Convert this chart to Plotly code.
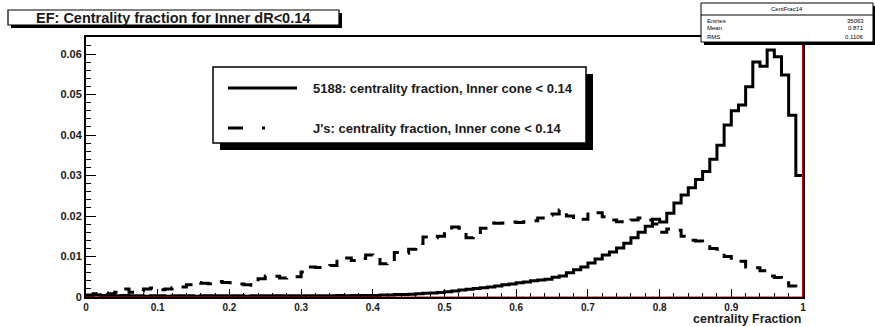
import plotly.graph_objects as go

# Histogram binning: 100 bins of width 0.01 on [0, 1]
bin_edges = [round(i * 0.01, 2) for i in range(101)]

# 5188 sample: centrality fraction, inner cone < 0.14 (normalised counts per bin)
solid_vals = [
    0.0004, 0.0005, 0.0004, 0.0003, 0.0003, 0.0004, 0.0003, 0.0003, 0.0002, 0.0003,
    0.0003, 0.0002, 0.0003, 0.0003, 0.0003, 0.0002, 0.0003, 0.0003, 0.0003, 0.0003,
    0.0003, 0.0003, 0.0002, 0.0003, 0.0003, 0.0003, 0.0003, 0.0003, 0.0003, 0.0003,
    0.0003, 0.0003, 0.0003, 0.0003, 0.0003, 0.0004, 0.0003, 0.0004, 0.0004, 0.0004,
    0.0004, 0.0005, 0.0005, 0.0006, 0.0006, 0.0007, 0.0008, 0.0009, 0.0010, 0.0011,
    0.0013, 0.0015, 0.0017, 0.0019, 0.0021, 0.0023, 0.0025, 0.0027, 0.0030, 0.0032,
    0.0035, 0.0037, 0.0040, 0.0042, 0.0044, 0.0049, 0.0052, 0.0060, 0.0067, 0.0074,
    0.0084, 0.0094, 0.0104, 0.0111, 0.0121, 0.0133, 0.0146, 0.0160, 0.0175, 0.0192,
    0.0185, 0.0207, 0.0232, 0.0252, 0.0270, 0.0290, 0.0310, 0.0340, 0.0375, 0.0425,
    0.0460, 0.0474, 0.0519, 0.0580, 0.0570, 0.0610, 0.0593, 0.0548, 0.0449, 0.0300,
]

# J sample: centrality fraction, inner cone < 0.14
dashed_vals = [
    0.0005, 0.0008, 0.0010, 0.0008, 0.0012, 0.0020, 0.0012, 0.0015, 0.0020, 0.0022,
    0.0018, 0.0020, 0.0023, 0.0025, 0.0030, 0.0036, 0.0034, 0.0033, 0.0038, 0.0036,
    0.0035, 0.0032, 0.0030, 0.0029, 0.0045, 0.0052, 0.0051, 0.0047, 0.0049, 0.0050,
    0.0062, 0.0074, 0.0073, 0.0075, 0.0078, 0.0088, 0.0096, 0.0090, 0.0095, 0.0104,
    0.0098, 0.0082, 0.0086, 0.0110, 0.0108, 0.0118, 0.0132, 0.0148, 0.0146, 0.0150,
    0.0160, 0.0173, 0.0170, 0.0146, 0.0150, 0.0170, 0.0183, 0.0182, 0.0183, 0.0185,
    0.0184, 0.0186, 0.0188, 0.0195, 0.0202, 0.0205, 0.0215, 0.0200, 0.0190, 0.0192,
    0.0210, 0.0208, 0.0198, 0.0190, 0.0186, 0.0184, 0.0190, 0.0195, 0.0190, 0.0180,
    0.0160, 0.0168, 0.0165, 0.0150, 0.0140, 0.0138, 0.0128, 0.0120, 0.0118, 0.0100,
    0.0090, 0.0088, 0.0074, 0.0072, 0.0065, 0.0052, 0.0048, 0.0035, 0.0027, 0.0022,
]

legend_labels = [
    "5188: centrality fraction, Inner cone < 0.14",
    "J's: centrality fraction, Inner cone < 0.14",
]
title_text = "EF: Centrality fraction for Inner dR<0.14"
x_title = "centrality Fraction"
stats_name = "CentFrac14"
stats_rows = [("Entries", "35063"), ("Mean", "0.871"), ("RMS", "0.1106")]

W, H = 875, 327
L, R, T, B = 86, 72, 37, 30
PW, PH = W - L - R, H - T - B
FONT = "Liberation Sans"
INK = "#1a1a1a"


def fx(p):
    """pixel column -> paper x"""
    return (p - L) / PW


def fy(p):
    """pixel row -> paper y"""
    return (H - B - p) / PH


def step_xy(vals):
    return bin_edges, list(vals) + [vals[-1]]


fig = go.Figure()

sx, sy = step_xy(dashed_vals)
fig.add_trace(go.Scatter(x=sx, y=sy, mode="lines", line_shape="hv",
                         line=dict(color="black", width=3, dash="13px,10px"),
                         showlegend=False, hoverinfo="skip"))
sx, sy = step_xy(solid_vals)
fig.add_trace(go.Scatter(x=sx, y=sy, mode="lines", line_shape="hv",
                         line=dict(color="black", width=3),
                         showlegend=False, hoverinfo="skip"))

shapes = []
annotations = []


def boxed(x0, y0, x1, y1, shadow=4, lw=1.2):
    shapes.append(dict(type="rect", xref="paper", yref="paper",
                       x0=fx(x0 + shadow), x1=fx(x1 + shadow),
                       y0=fy(y1 + shadow), y1=fy(y0 + shadow),
                       fillcolor="black", line=dict(width=0), layer="above"))
    shapes.append(dict(type="rect", xref="paper", yref="paper",
                       x0=fx(x0), x1=fx(x1), y0=fy(y1), y1=fy(y0),
                       fillcolor="white", line=dict(color="black", width=lw),
                       layer="above"))


# red outline along the right edge and the baseline
shapes.append(dict(type="line", xref="x", yref="paper", x0=1, x1=1, y0=0, y1=1,
                   line=dict(color="#d40000", width=2), layer="above"))
shapes.append(dict(type="line", xref="paper", yref="y", x0=0, x1=1, y0=0, y1=0,
                   line=dict(color="#d40000", width=1), layer="above"))

# title box
boxed(8, 10, 339, 25, shadow=3)
annotations.append(dict(xref="paper", yref="paper", x=fx(173), y=fy(17.5),
                        text="<b>" + title_text + "</b>", showarrow=False,
                        font=dict(family=FONT, size=14.5, color=INK),
                        xanchor="center", yanchor="middle"))

# statistics box
boxed(701, 3, 873, 42, shadow=3, lw=1)
shapes.append(dict(type="line", xref="paper", yref="paper",
                   x0=fx(701), x1=fx(873), y0=fy(15), y1=fy(15),
                   line=dict(color="black", width=1), layer="above"))
annotations.append(dict(xref="paper", yref="paper", x=fx(787), y=fy(9),
                        text=stats_name, showarrow=False,
                        font=dict(family=FONT, size=6, color="black"),
                        xanchor="center", yanchor="middle"))
for i, (k, v) in enumerate(stats_rows):
    yy = fy(20.5 + i * 8)
    annotations.append(dict(xref="paper", yref="paper", x=fx(705), y=yy,
                            text=k, showarrow=False,
                            font=dict(family=FONT, size=6, color="black"),
                            xanchor="left", yanchor="middle"))
    annotations.append(dict(xref="paper", yref="paper", x=fx(866), y=yy,
                            text=v, showarrow=False,
                            font=dict(family=FONT, size=6, color="black"),
                            xanchor="right", yanchor="middle"))

# legend box
boxed(213, 67, 586, 143, shadow=7, lw=1.5)
rows_y = [88, 128]
shapes.append(dict(type="line", xref="paper", yref="paper",
                   x0=fx(228), x1=fx(297), y0=fy(rows_y[0]), y1=fy(rows_y[0]),
                   line=dict(color="black", width=3), layer="above"))
shapes.append(dict(type="line", xref="paper", yref="paper",
                   x0=fx(228), x1=fx(297), y0=fy(rows_y[1]), y1=fy(rows_y[1]),
                   line=dict(color="black", width=3, dash="15px,19px,3px,40px"),
                   layer="above"))
for lab, yy in zip(legend_labels, rows_y):
    annotations.append(dict(xref="paper", yref="paper", x=fx(311), y=fy(yy),
                            text="<b>" + lab + "</b>", showarrow=False,
                            font=dict(family=FONT, size=13, color=INK),
                            xanchor="left", yanchor="middle"))

# x axis title, right aligned at the end of the axis
annotations.append(dict(xref="paper", yref="paper", x=1, y=fy(319),
                        text="<b>" + x_title + "</b>", showarrow=False,
                        font=dict(family=FONT, size=12.5, color=INK),
                        xanchor="right", yanchor="middle"))

x_tick_font = dict(family=FONT, size=10, color=INK, weight="bold")
y_tick_font = dict(family=FONT, size=11, color=INK, weight="bold")
fig.update_layout(
    width=W, height=H,
    margin=dict(l=L, r=R, t=T, b=B, pad=0),
    paper_bgcolor="white", plot_bgcolor="white",
    showlegend=False,
    shapes=shapes, annotations=annotations,
    xaxis=dict(range=[0, 1], dtick=0.1, tick0=0, ticks="inside", ticklen=8,
               tickwidth=1, tickcolor="black", showgrid=False, zeroline=False,
               showline=True, linecolor="black", linewidth=1.5, mirror=True,
               tickfont=x_tick_font, tickformat="~g",
               minor=dict(dtick=0.02, ticks="inside", ticklen=4,
                          tickcolor="black", showgrid=False)),
    yaxis=dict(range=[0, 0.0642], dtick=0.01, tick0=0, ticks="inside",
               ticklen=10, tickwidth=1, tickcolor="black", showgrid=False,
               zeroline=False, showline=True, linecolor="black", linewidth=2,
               mirror=True, tickfont=y_tick_font, tickformat="~g",
               minor=dict(dtick=0.002, ticks="inside", ticklen=5,
                          tickcolor="black", showgrid=False)),
)

fig.write_html("out.html")
